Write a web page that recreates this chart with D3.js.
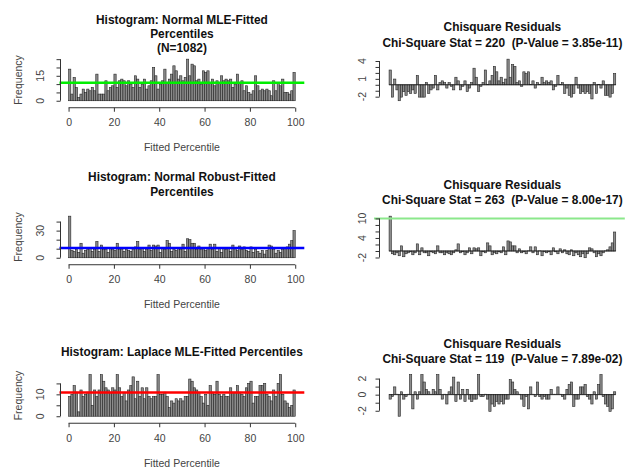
<!DOCTYPE html>
<html>
<head>
<meta charset="utf-8">
<script src="https://cdn.jsdelivr.net/npm/d3@7"></script>
<style>
  html, body { margin: 0; padding: 0; background: #fff; }
  svg { display: block; font-family: "Liberation Sans", Arial, Helvetica, sans-serif; }
  text.title { white-space: pre; }
</style>
</head>
<body>
<script>
// Sample size and number of percentile bins (each bin is 1 percentile wide)
const N = 1082;
const nBins = 100;

// Observed counts per percentile bin, bins 0..99
const countsNormalMLE = [
  19, 4, 14, 8, 2, 4, 7, 5, 7, 6,
  8, 6, 16, 4, 4, 4, 12, 6, 8, 9,
  16, 8, 12, 13, 12, 9, 12, 10, 8, 15,
  13, 8, 10, 13, 7, 9, 12, 20, 15, 7,
  10, 12, 19, 11, 13, 16, 21, 18, 13, 15,
  12, 14, 25, 15, 22, 21, 12, 13, 10, 18,
  17, 18, 11, 13, 9, 12, 11, 15, 12, 13,
  12, 13, 8, 10, 16, 11, 12, 6, 9, 5,
  4, 6, 15, 9, 6, 7, 6, 7, 6, 3,
  12, 6, 11, 9, 13, 5, 5, 4, 6, 17
];
const countsNormalRobust = [
  46, 8, 7, 9, 6, 16, 5, 8, 9, 10,
  7, 9, 18, 7, 14, 9, 9, 6, 10, 9,
  8, 16, 9, 9, 7, 9, 8, 7, 9, 12,
  18, 9, 10, 7, 9, 14, 8, 14, 13, 14,
  6, 10, 9, 19, 16, 7, 9, 8, 10, 9,
  15, 7, 21, 20, 16, 16, 9, 13, 9, 10,
  8, 11, 15, 9, 15, 7, 11, 6, 10, 9,
  10, 7, 14, 10, 8, 13, 9, 12, 8, 7,
  12, 6, 9, 7, 5, 8, 4, 8, 14, 13,
  9, 5, 8, 6, 9, 11, 12, 15, 19, 30
];
const countsLaplaceMLE = [
  9, 10, 14, 11, 2, 12, 9, 10, 11, 19,
  5, 12, 9, 12, 19, 16, 13, 12, 11, 13,
  12, 19, 13, 9, 11, 7, 12, 14, 18, 8,
  16, 9, 13, 8, 13, 9, 8, 9, 9, 19,
  10, 10, 11, 9, 4, 7, 6, 8, 7, 8,
  7, 9, 9, 17, 16, 13, 12, 11, 9, 6,
  10, 5, 14, 11, 10, 16, 10, 9, 10, 9,
  9, 13, 11, 11, 14, 11, 10, 9, 13, 15,
  16, 6, 9, 9, 14, 14, 15, 10, 9, 7,
  12, 9, 15, 19, 10, 7, 6, 4, 5, 12
];

// Titles and test results
const histTitles = [
  ["Histogram: Normal MLE-Fitted", "Percentiles", "(N=1082)"],
  ["Histogram: Normal Robust-Fitted", "Percentiles"],
  ["Histogram: Laplace MLE-Fitted Percentiles"]
];
const chiStats = ["220", "263", "119"];
const pValues = ["3.85e-11", "8.00e-17", "7.89e-02"];

// Axis ticks
const xTickValues = [0, 20, 40, 60, 80, 100];
const histTicks = [[0, 5, 10, 15, 20, 25], [0, 10, 20, 30, 40], [0, 5, 10, 15]];
const histTickLabels = [[0, 15], [0, 30], [0, 10]];
const residTicks = [[-2, -1, 0, 1, 2, 3, 4], [-2, 0, 2, 4, 6, 8, 10], [-2, -1, 0, 1, 2]];
const residTickLabels = [[-2, 1, 4], [-2, 4, 10], [-2, 0, 2]];
const residRefLines = [[], [10], []];

const allCounts = [countsNormalMLE, countsNormalRobust, countsLaplaceMLE];

// ---- layout & style ----
const W = 630, H = 469;
const rowOffsets = [0, 157, 315.5];
const regionTop = 57.5, regionBottom = 102.4;
const leftCol = { x0: 59.5, x1: 304.3 };
const rightCol = { x0: 380, x1: 624.8 };
const histLineColors = ["#00ee00", "#0000ff", "#ff0000"];
const residLineColor = "#8be88b";
const barFill = "#8c8c8c", barStroke = "#262626";
const axisColor = "#333", labelColor = "#444";
const histTitleY = [[20, 34, 48], [177, 192], [352]];
const residTitleY = [[27, 43], [185, 200], [343.5, 358.5]];

const svg = d3.select("body").append("svg")
  .attr("width", W).attr("height", H);
svg.append("rect").attr("width", W).attr("height", H).attr("fill", "#fff");

const expected = N / nBins;
const bins = d3.range(nBins);

function titleBlock(lines, ys, cx) {
  lines.forEach((t, k) => {
    svg.append("text")
      .attr("class", "title")
      .attr("x", cx).attr("y", ys[k])
      .attr("text-anchor", "middle").attr("dominant-baseline", "central")
      .attr("font-size", 11.9).attr("font-weight", "bold").attr("fill", "#111")
      .text(t);
  });
}

function yAxis(g, y, xPos, ticks, labels, labelX) {
  const ax = d3.axisLeft(y).tickValues(ticks).tickSize(4).tickSizeOuter(0).tickFormat("");
  const a = g.append("g").attr("transform", `translate(${xPos},0)`).call(ax);
  a.select(".domain").attr("d", `M0,${y(ticks[0])}V${y(ticks[ticks.length - 1])}`)
    .attr("stroke", axisColor);
  a.selectAll(".tick line").attr("stroke", axisColor);
  labels.forEach(v => {
    g.append("text")
      .attr("transform", `translate(${labelX},${y(v)}) rotate(-90)`)
      .attr("text-anchor", "middle").attr("dominant-baseline", "central")
      .attr("font-size", 10.5).attr("fill", labelColor)
      .text(v);
  });
}

// ---- histograms (left column) ----
allCounts.forEach((counts, i) => {
  const oy = rowOffsets[i];
  const g = svg.append("g");
  const x = d3.scaleLinear().domain([-4, 104]).range([leftCol.x0, leftCol.x1]);
  const maxC = d3.max(counts);
  const y = d3.scaleLinear().domain([-0.04 * maxC, 1.04 * maxC])
    .range([regionBottom + oy, regionTop + oy]);

  g.selectAll("rect.bar").data(counts).join("rect")
    .attr("x", (d, k) => x(bins[k]))
    .attr("width", (d, k) => x(bins[k] + 1) - x(bins[k]))
    .attr("y", d => y(d))
    .attr("height", d => y(0) - y(d))
    .attr("fill", barFill).attr("stroke", barStroke).attr("stroke-width", 0.6);

  // expected count per bin
  g.append("line")
    .attr("x1", leftCol.x0).attr("x2", leftCol.x1)
    .attr("y1", y(expected)).attr("y2", y(expected))
    .attr("stroke", histLineColors[i]).attr("stroke-width", 2.6);

  // x axis
  const axY = y(0) + 7;
  const xa = g.append("g").attr("transform", `translate(0,${axY})`)
    .call(d3.axisBottom(x).tickValues(xTickValues).tickSize(4).tickSizeOuter(0).tickPadding(7));
  xa.select(".domain").attr("d", `M${x(0)},0H${x(100)}`).attr("stroke", axisColor);
  xa.selectAll(".tick line").attr("stroke", axisColor);
  xa.selectAll(".tick text").attr("font-size", 10.5).attr("fill", labelColor)
    .attr("font-family", null);

  yAxis(g, y, leftCol.x0 + 1, histTicks[i], histTickLabels[i], 40);

  g.append("text")
    .attr("x", (leftCol.x0 + leftCol.x1) / 2).attr("y", 147 + oy)
    .attr("text-anchor", "middle").attr("dominant-baseline", "central")
    .attr("font-size", 10.5).attr("fill", labelColor)
    .text("Fitted Percentile");
  g.append("text")
    .attr("transform", `translate(18,${80 + oy}) rotate(-90)`)
    .attr("text-anchor", "middle").attr("dominant-baseline", "central")
    .attr("font-size", 10.5).attr("fill", labelColor)
    .text("Frequency");

  titleBlock(histTitles[i], histTitleY[i], (leftCol.x0 + leftCol.x1) / 2);
});

// ---- Pearson residuals (right column) ----
allCounts.forEach((counts, i) => {
  const oy = rowOffsets[i];
  const g = svg.append("g");
  const resid = counts.map(c => (c - expected) / Math.sqrt(expected));
  const lo = Math.min(0, d3.min(resid)), hi = Math.max(0, d3.max(resid));
  const pad = 0.04 * (hi - lo);
  const x = d3.scaleLinear().domain([-4, 104]).range([rightCol.x0, rightCol.x1]);
  const y = d3.scaleLinear().domain([lo - pad, hi + pad])
    .range([regionBottom + oy, regionTop + oy]);

  g.selectAll("rect.bar").data(resid).join("rect")
    .attr("x", (d, k) => x(bins[k]))
    .attr("width", (d, k) => x(bins[k] + 1) - x(bins[k]))
    .attr("y", d => y(Math.max(0, d)))
    .attr("height", d => Math.abs(y(d) - y(0)))
    .attr("fill", barFill).attr("stroke", barStroke).attr("stroke-width", 0.6);

  g.append("line")
    .attr("x1", x(0)).attr("x2", x(nBins))
    .attr("y1", y(0)).attr("y2", y(0))
    .attr("stroke", "#222").attr("stroke-width", 0.8);

  residRefLines[i].forEach(v => {
    g.append("line")
      .attr("x1", rightCol.x0 - 6).attr("x2", rightCol.x1)
      .attr("y1", y(v)).attr("y2", y(v))
      .attr("stroke", residLineColor).attr("stroke-width", 2);
  });

  yAxis(g, y, rightCol.x0 - 0.5, residTicks[i], residTickLabels[i], 362);

  titleBlock(["Chisquare Residuals",
              `Chi-Square Stat = ${chiStats[i]}  (P-Value = ${pValues[i]})`],
             residTitleY[i], (rightCol.x0 + rightCol.x1) / 2);
});
</script>
</body>
</html>
